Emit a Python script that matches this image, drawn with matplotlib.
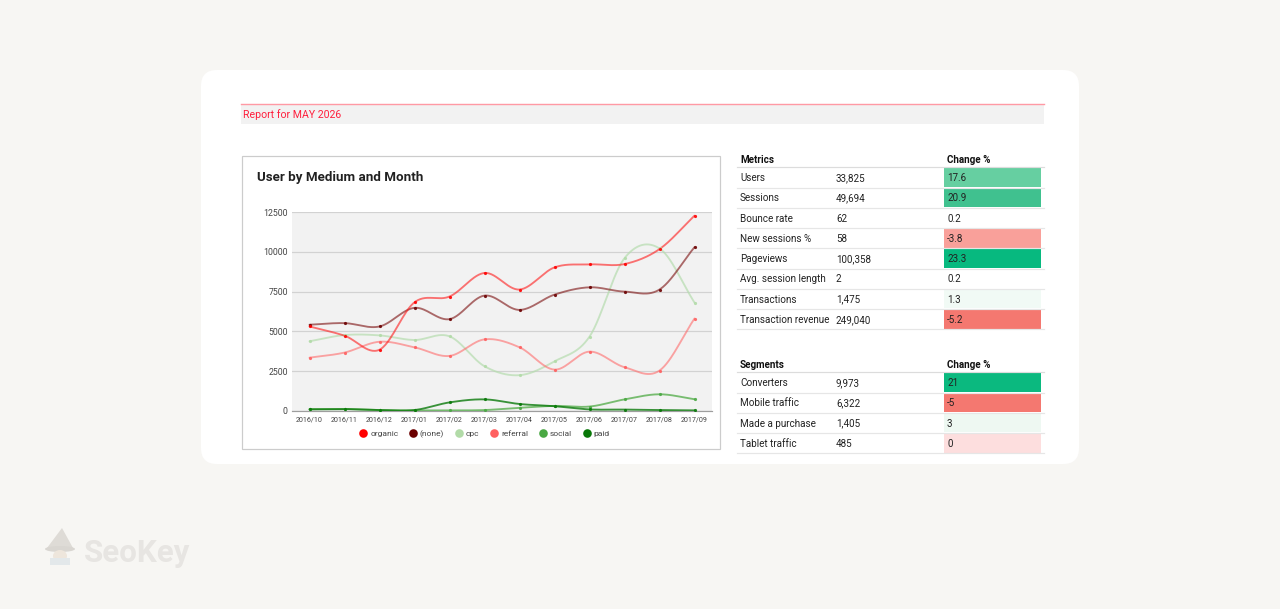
import numpy as np
import matplotlib
matplotlib.use("Agg")
import matplotlib.pyplot as plt
from matplotlib.patches import Rectangle, FancyBboxPatch, Polygon, Ellipse
from matplotlib.lines import Line2D

plt.rcParams['font.family'] = ['Roboto', 'DejaVu Sans']

# ---------------- data ----------------
months = ["2016/10", "2016/11", "2016/12", "2017/01", "2017/02", "2017/03",
          "2017/04", "2017/05", "2017/06", "2017/07", "2017/08", "2017/09"]
organic = [5310, 4730, 3850, 6830, 7190, 8670, 7630, 9020, 9210, 9230, 10170, 12270]
none_ = [5420, 5520, 5310, 6480, 5770, 7250, 6350, 7310, 7770, 7500, 7630, 10290]
cpc = [4380, 4770, 4750, 4460, 4690, 2810, 2250, 3120, 4670, 9600, 10210, 6810]
referral = [3350, 3670, 4350, 4000, 3460, 4500, 4000, 2600, 3730, 2750, 2540, 5810]
social = [120, 130, 60, 40, 40, 60, 200, 320, 280, 730, 1050, 740]
paid = [100, 120, 60, 60, 540, 730, 440, 300, 100, 90, 60, 40]
series_names = ["organic", "(none)", "cpc", "referral", "social", "paid"]
yticks = [0, 2500, 5000, 7500, 10000, 12500]

metric_names = ["Users", "Sessions", "Bounce rate", "New sessions %", "Pageviews",
                "Avg. session length", "Transactions", "Transaction revenue"]
metric_values = ["33,825", "49,694", "62", "58", "100,358", "2", "1,475", "249,040"]
metric_changes = ["17.6", "20.9", "0.2", "-3.8", "23.3", "0.2", "1.3", "-5.2"]
segment_names = ["Converters", "Mobile traffic", "Made a purchase", "Tablet traffic"]
segment_values = ["9,973", "6,322", "1,405", "485"]
segment_changes = ["21", "-5", "3", "0"]

# ---------------- styles ----------------
line_colors = ["#ff1a1a", "#7a0d0d", "#b5dcae", "#ff6b6b", "#4fab45", "#0b7a0b"]
marker_colors = ["#ff0000", "#6b0000", "#b2dba8", "#ff6060", "#4aa843", "#087808"]
line_alphas = [0.6, 0.6, 0.7, 0.6, 0.75, 0.8]
metric_cell_colors = ["#66cfa1", "#40c18f", None, "#f9a09a", "#07b97f", None, "#f1faf5", "#f47870"]
segment_cell_colors = ["#0bb97f", "#f47870", "#eef8f2", "#fddede"]

W, H = 1280, 609
fig = plt.figure(figsize=(W / 100, H / 100), dpi=100)
fig.patch.set_facecolor("#f7f6f3")

bg = fig.add_axes([0, 0, 1, 1])
bg.set_xlim(0, W)
bg.set_ylim(H, 0)
bg.axis("off")
bg.set_zorder(0)

PX = 0.72  # points per pixel

# card
bg.add_patch(FancyBboxPatch((201, 70), 878, 394, boxstyle="round,pad=0,rounding_size=16",
                            facecolor="white", edgecolor="none"))

# header band
bg.add_patch(Rectangle((241, 104), 803, 20, facecolor="#f2f2f2", edgecolor="none"))
bg.plot([241, 1044], [103.5, 103.5], color="#ff99a4", lw=1.4 * PX)
bg.text(243, 118, "Report for MAY 2026", color="#ff1f3d", fontsize=7.6,
        va="baseline", ha="left")

# chart box
bg.add_patch(Rectangle((241.5, 155.5), 478, 293, facecolor="white",
                       edgecolor="#cccccc", lw=1.2 * PX))
bg.text(257, 177, "User by Medium and Month", color="#212121", fontsize=9.6,
        fontweight="bold", va="center", ha="left")

# watermark
bg.text(84, 553, "SeoKey", color="#e7e5e2", fontsize=22.5, fontweight="bold",
        va="center", ha="left")
bg.add_patch(Polygon([[47, 548], [73, 548], [62, 528]], closed=True,
                     facecolor="#dedbd6", edgecolor="none"))
bg.add_patch(Ellipse((60, 549), 30, 6, facecolor="#d9d6d1", edgecolor="none"))
bg.add_patch(Ellipse((60, 556), 14, 12, facecolor="#eee6dc", edgecolor="none"))
bg.add_patch(Rectangle((50, 558), 20, 7, facecolor="#e3e8ea", edgecolor="none"))

# ---------------- table ----------------
def draw_table(top, header, names, values, changes, colors):
    row_h = 20.25
    hb = top - 4.5
    bg.text(740, hb, header, fontsize=7.1, fontweight="bold", color="#111111",
            va="baseline", ha="left")
    bg.text(947, hb, "Change %", fontsize=7.1, fontweight="bold", color="#111111",
            va="baseline", ha="left")
    bg.plot([737, 1044], [top, top], color="#dcdcdc", lw=1.2 * PX)
    for i, (n, v, c, col) in enumerate(zip(names, values, changes, colors)):
        y0 = top + i * row_h
        if col is not None:
            bg.add_patch(Rectangle((944, y0 + 0.6), 97, row_h - 1.2, facecolor=col,
                                   edgecolor="none"))
        yb = y0 + row_h / 2 + 3.6
        bg.text(740, yb, n, fontsize=7.1, color="#222222", va="baseline", ha="left")
        bg.text(836, yb, v, fontsize=7.1, color="#222222", va="baseline", ha="left")
        bg.text(947, yb, c, fontsize=7.1, color="#222222", va="baseline", ha="left")
        bg.plot([737, 1044], [y0 + row_h, y0 + row_h], color="#e6e6e6", lw=1.2 * PX)

draw_table(167.3, "Metrics", metric_names, metric_values, metric_changes, metric_cell_colors)
draw_table(372.3, "Segments", segment_names, segment_values, segment_changes, segment_cell_colors)

# ---------------- chart ----------------
left, right, top, bottom = 292, 712, 212, 411
ax = fig.add_axes([left / W, 1 - bottom / H, (right - left) / W, (bottom - top) / H])
ax.set_zorder(2)
ax.set_facecolor("#f2f2f2")

def catmull(y, n=30):
    y = np.asarray(y, dtype=float)
    k = len(y)
    m = np.zeros(k)
    m[1:-1] = (y[2:] - y[:-2]) / 2
    m[0] = y[1] - y[0]
    m[-1] = y[-1] - y[-2]
    xs, ys = [], []
    t = np.linspace(0, 1, n, endpoint=False)
    h00 = 2 * t**3 - 3 * t**2 + 1
    h10 = t**3 - 2 * t**2 + t
    h01 = -2 * t**3 + 3 * t**2
    h11 = t**3 - t**2
    for i in range(k - 1):
        xs.append(i + t)
        ys.append(h00 * y[i] + h10 * m[i] + h01 * y[i + 1] + h11 * m[i + 1])
    xs.append([k - 1])
    ys.append([y[-1]])
    return np.concatenate(xs), np.concatenate(ys)

x = np.arange(len(months))
all_series = [organic, none_, cpc, referral, social, paid]
draw_order = [2, 3, 4, 5, 1, 0]
for idx in draw_order:
    s = all_series[idx]
    cx, cy = catmull(s)
    ax.plot(cx, cy, color=line_colors[idx], lw=1.5 * PX * 1.25, alpha=line_alphas[idx],
            solid_capstyle="round", zorder=3)
    ax.plot(x, s, "o", color=marker_colors[idx], ms=2.3, mew=0, alpha=0.9, zorder=4)

ax.set_xlim(-0.5, len(months) - 0.5)
ax.set_ylim(0, 12500)
ax.set_yticks(yticks)
ax.set_yticklabels([str(v) for v in yticks])
ax.set_xticks(x)
ax.set_xticklabels(months)
ax.grid(axis="y", color="#d2d2d2", lw=1.2 * PX)
ax.set_axisbelow(True)
for sp in ["top", "right", "left"]:
    ax.spines[sp].set_visible(False)
ax.spines["bottom"].set_color("#9e9e9e")
ax.spines["bottom"].set_linewidth(1.2 * PX)
ax.tick_params(axis="y", length=0, labelsize=6.3, labelcolor="#444444", pad=3)
ax.tick_params(axis="x", length=0, labelsize=5.1, labelcolor="#444444", pad=4)

handles = [Line2D([0], [0], marker="o", linestyle="none", markersize=6.2,
                  markerfacecolor=marker_colors[i], markeredgewidth=0)
           for i in range(len(series_names))]
leg = ax.legend(handles, series_names, loc="center", bbox_to_anchor=(0.458, -0.115),
                ncol=6, frameon=False, fontsize=6.0, handletextpad=0.35,
                columnspacing=1.25, handlelength=1.0)
for t in leg.get_texts():
    t.set_color("#444444")

fig.savefig("out.png", dpi=100, facecolor=fig.get_facecolor())
